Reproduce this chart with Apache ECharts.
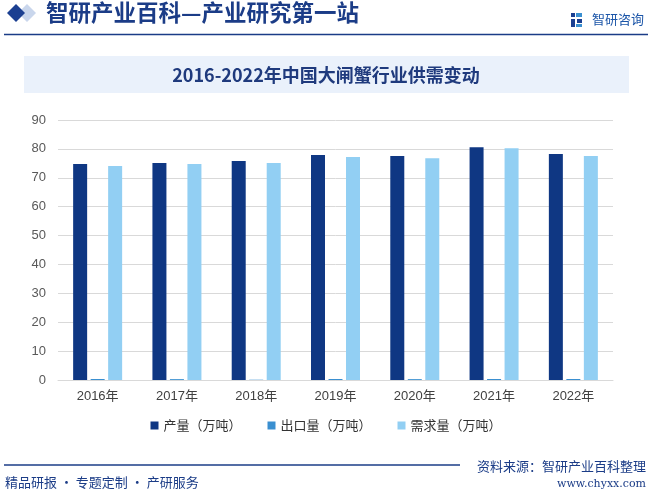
<!DOCTYPE html>
<html><head><meta charset="utf-8">
<script src="https://cdn.jsdelivr.net/npm/echarts@6/dist/echarts.min.js"></script>
<style>html,body{margin:0;padding:0;background:#fff}#c{width:652px;height:494px}</style>
</head><body><div id="c"></div>
<script>
const categories = ['2016年','2017年','2018年','2019年','2020年','2021年','2022年'];
const production = [74.8, 75.1, 75.8, 77.9, 77.5, 80.6, 78.2];
const exportVol = [0.35, 0.3, 0.1, 0.35, 0.3, 0.35, 0.35];
const demand = [74.1, 74.8, 75.1, 77.2, 76.8, 80.2, 77.5];
const seriesNames = ['产量（万吨）','出口量（万吨）','需求量（万吨）'];
const yTicks = [0,10,20,30,40,50,60,70,80,90];

const navy = '#1B3C87';
const chart = echarts.init(document.getElementById('c'));
chart.setOption({
  animation: false,
  backgroundColor: '#fff',
  color: ['#0F3783','#3A8FD0','#92CFF3'],
  grid: {left: 58, right: 39, top: 120, bottom: 114},
  legend: {
    data: seriesNames, bottom: 57, left: 'center', icon: 'rect',
    itemWidth: 8, itemHeight: 8, itemGap: 26,
    textStyle: {fontFamily: 'Noto Sans CJK SC', fontSize: 13, color: '#333'}
  },
  xAxis: {
    type: 'category', data: categories,
    axisLine: {lineStyle: {color: '#d9d9d9', width: 1}},
    axisTick: {show: false},
    axisLabel: {color: '#404040', fontSize: 13, margin: 10, fontFamily: 'Liberation Sans, Noto Sans CJK SC'}
  },
  yAxis: {
    type: 'value', min: yTicks[0], max: yTicks[yTicks.length-1], interval: 10,
    axisLine: {show: false}, axisTick: {show: false},
    splitLine: {lineStyle: {color: '#d9d9d9', width: 1}},
    axisLabel: {color: '#595959', fontSize: 13, margin: 12, fontFamily: 'Liberation Sans'}
  },
  series: [
    {name: seriesNames[0], type: 'bar', data: production, barWidth: 14, barGap: '25%'},
    {name: seriesNames[1], type: 'bar', data: exportVol, barWidth: 14, barGap: '25%'},
    {name: seriesNames[2], type: 'bar', data: demand, barWidth: 14, barGap: '25%'}
  ],
  graphic: [
    {type: 'polygon', shape: {points: [[27,4],[36,13],[27,22],[18,13]]}, style: {fill: '#C9D6EC'}},
    {type: 'polygon', shape: {points: [[16,4],[25,13],[16,22],[7,13]]}, style: {fill: '#1B3F91'}},
    {type: 'text', left: 46, top: 1, style: {text: '智研产业百科—产业研究第一站', fill: navy, font: 'bold 22.5px "Noto Sans CJK SC"'}},
    {type: 'rect', shape: {x: 571, y: 13, width: 4, height: 4}, style: {fill: '#1B3F91'}},
    {type: 'rect', shape: {x: 576, y: 13, width: 6, height: 4}, style: {fill: '#3A8FD0'}},
    {type: 'rect', shape: {x: 571, y: 19, width: 4, height: 8}, style: {fill: '#1B3F91'}},
    {type: 'rect', shape: {x: 577, y: 19, width: 5, height: 4}, style: {fill: '#1B3F91'}},
    {type: 'rect', shape: {x: 576, y: 24, width: 6, height: 3}, style: {fill: '#3A8FD0'}},
    {type: 'text', left: 592, top: 13, style: {text: '智研咨询', fill: '#1B55A8', font: '13px "Noto Sans CJK SC"'}},
    {type: 'line', shape: {x1: 4, y1: 34.5, x2: 648, y2: 34.5}, style: {stroke: navy, lineWidth: 1.5}},
    {type: 'rect', shape: {x: 24, y: 56, width: 605, height: 37}, style: {fill: '#EAF1FB'}},
    {type: 'text', x: 326, y: 75, style: {text: '2016-2022年中国大闸蟹行业供需变动', fill: '#1F3A7D', font: 'bold 18px "Noto Sans CJK SC"', align: 'center', verticalAlign: 'middle'}},
    {type: 'line', shape: {x1: 4, y1: 465, x2: 460, y2: 465}, style: {stroke: navy, lineWidth: 1.5}},
    {type: 'text', x: 5, y: 482, style: {text: '精品研报 · 专题定制 · 产研服务', fill: navy, font: '13px "Noto Sans CJK SC"', verticalAlign: 'middle'}},
    {type: 'text', x: 646, y: 466, style: {text: '资料来源：智研产业百科整理', fill: navy, font: '13px "Noto Sans CJK SC"', align: 'right', verticalAlign: 'middle'}},
    {type: 'text', x: 646, y: 484, style: {text: 'www.chyxx.com', fill: navy, font: '11px "DejaVu Serif"', align: 'right', verticalAlign: 'middle'}}
  ]
});
</script></body></html>
